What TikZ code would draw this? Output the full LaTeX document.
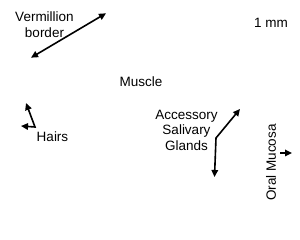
\documentclass[tikz,border=0pt]{standalone}
\usepackage{fontspec}
\setmainfont{Liberation Sans}
\usetikzlibrary{arrows.meta}
\begin{document}
\begin{tikzpicture}[x=1pt,y=1pt,
  lbl/.style={inner sep=0pt,align=center,font=\fontsize{13.5}{15.5}\selectfont},
  arr/.style={line width=1.6pt,{Triangle[length=7pt,width=6.5pt]}-{Triangle[length=7pt,width=6.5pt]}}]
\useasboundingbox (0,0) rectangle (300,240);
% labels
\node[lbl,anchor=north] (verm) at (44.5,228) {Vermillion\\border};
\node[lbl,anchor=base] (muscle) at (141,153) {Muscle};
\node[lbl,anchor=base] (scale) at (271,212) {1 mm};
\node[lbl,anchor=base] (hairs) at (52.5,98.5) {Hairs};
\node[lbl,anchor=north] (asg) at (186.5,130) {Accessory\\Salivary\\Glands};
\node[lbl,rotate=90] (oral) at (271,77.5) {Oral Mucosa};
% arrow points
\coordinate (vA) at (31,182.3);
\coordinate (vB) at (106,226.7);
\coordinate (hU) at (26,137);
\coordinate (hV) at (35,113);
\coordinate (hL) at (21,114);
\coordinate (aU) at (240,131);
\coordinate (aV) at (216,102);
\coordinate (aD) at (214.5,63);
\coordinate (oS) at (280,87);
\coordinate (oE) at (292,87);
% arrows
\draw[arr] (vA) -- (vB);
\draw[arr] (hU) -- (hV) -- (hL);
\draw[arr] (aU) -- (aV) -- (aD);
\draw[line width=1.6pt,-{Triangle[length=7pt,width=6.5pt]}] (oS) -- (oE);
\end{tikzpicture}
\end{document}
